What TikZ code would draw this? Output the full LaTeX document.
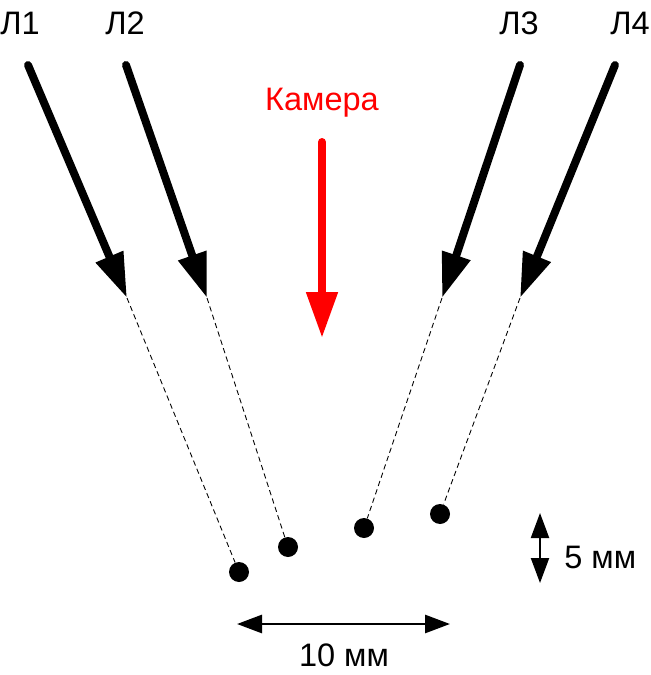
\documentclass[tikz,border=0pt]{standalone}
\usepackage{fontspec}
\setmainfont{Liberation Sans}
\usetikzlibrary{arrows.meta}
\definecolor{camred}{rgb}{1, 0, 0}

\begin{document}
\begin{tikzpicture}[x=0.02cm, y=-0.02cm,
    beam/.style={line width=8pt*0.567, line cap=round, -{Triangle[length=0.9cm, width=0.56cm]}},
    trace/.style={dashed, line width=0.5pt, dash pattern=on 3pt off 2pt},
    spot/.style={circle, fill=black, inner sep=0pt, minimum size=0.4cm},
    dim/.style={line width=1.6pt, {Triangle[length=0.5cm, width=0.36cm]}-{Triangle[length=0.5cm, width=0.36cm]}},
    lbl/.style={font=\fontsize{18.5}{22}\selectfont, inner sep=0pt}]
  \useasboundingbox (0,0) rectangle (650,675);

  \coordinate (s1) at (28, 65);
  \coordinate (s2) at (126, 65);
  \coordinate (s3) at (520, 65);
  \coordinate (s4) at (615, 65);
  \coordinate (t1) at (127, 298);
  \coordinate (t2) at (207, 298);
  \coordinate (t3) at (442, 298);
  \coordinate (t4) at (520, 298);

  \node[lbl] (l1) at (20, 23) {Л1};
  \node[lbl] (l2) at (125, 23) {Л2};
  \node[lbl] (l3) at (519, 23) {Л3};
  \node[lbl] (l4) at (630, 23) {Л4};

  \node[spot] (p1) at (239, 572) {};
  \node[spot] (p2) at (288, 547) {};
  \node[spot] (p3) at (364, 528) {};
  \node[spot] (p4) at (440, 514) {};

  \draw[beam] (s1) -- (t1);
  \draw[beam] (s2) -- (t2);
  \draw[beam] (s3) -- (t3);
  \draw[beam] (s4) -- (t4);

  \draw[trace] (t1) -- (p1);
  \draw[trace] (t2) -- (p2);
  \draw[trace] (t3) -- (p3);
  \draw[trace] (t4) -- (p4);

  \node[lbl, text=camred] (cam) at (322, 103) {Камера};
  \coordinate (c0) at (322, 142);
  \coordinate (c1) at (322, 338);
  \draw[camred, line width=8pt*0.567, line cap=round, -{Triangle[length=0.92cm, width=0.6cm]}] (c0) -- (c1);

  \coordinate (h0) at (237, 624);
  \coordinate (h1) at (450, 624);
  \draw[dim] (h0) -- (h1);
  \node[lbl] (w) at (344, 655) {10 мм};

  \coordinate (v0) at (540, 513);
  \coordinate (v1) at (540, 583);
  \draw[dim, line width=1.2pt] (v0) -- (v1);
  \node[lbl, anchor=west] (h) at (564, 557) {5 мм};
\end{tikzpicture}
\end{document}
